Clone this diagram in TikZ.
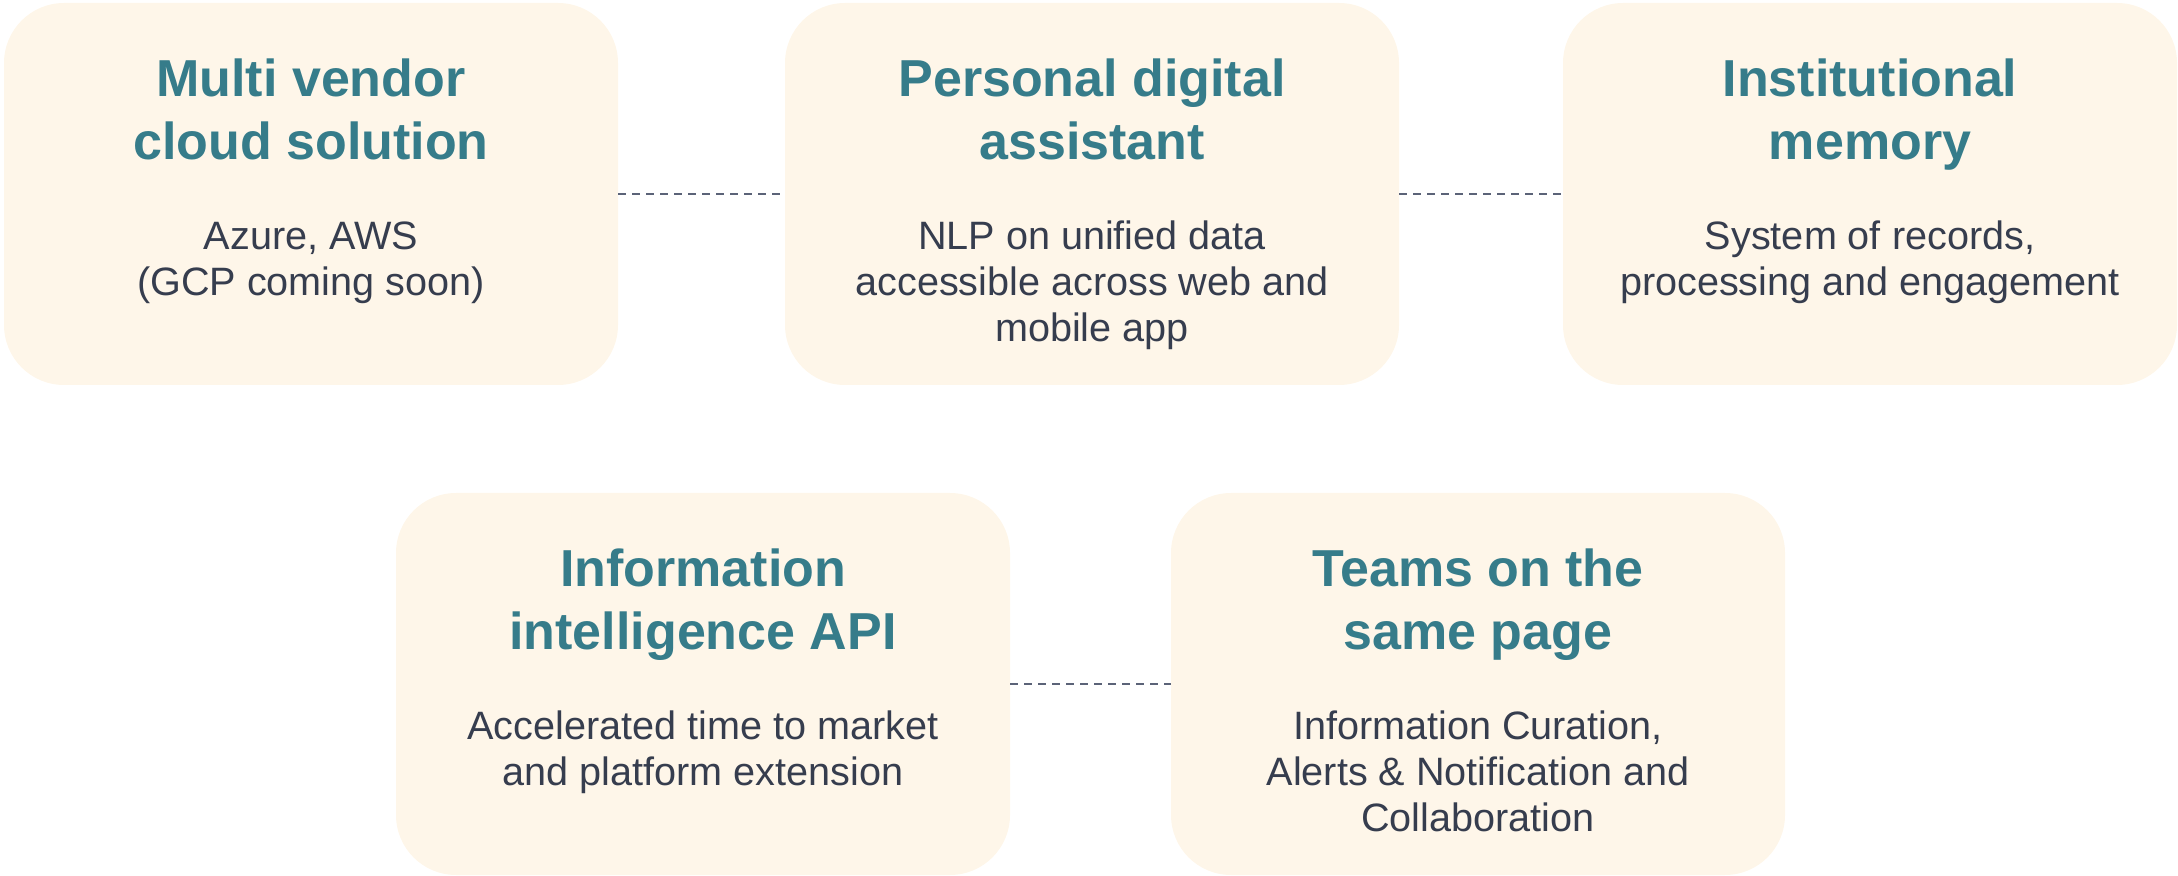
\documentclass[tikz,border=0pt]{standalone}
\usepackage{fontspec}
\setmainfont{Liberation Sans}
\usetikzlibrary{positioning}
\definecolor{cardfill}{HTML}{FEF6E9}
\definecolor{headteal}{HTML}{367C8A}
\definecolor{bodyslate}{HTML}{363D4E}
\definecolor{linkgray}{HTML}{5B6378}
\tikzset{x=0.5pt, y=-0.5pt,
card/.style={ % Sets the properties for each card
rectangle,
rounded corners=30pt,
fill=cardfill,
minimum width=307pt,
minimum height=191pt},
head/.style={ % Bold teal heading, base is its last line
anchor=base,
align=center,
text=headteal,
font=\bfseries\fontsize{26}{31.5}\selectfont},
body/.style={ % Plain description text, base is its last line
anchor=base,
align=center,
text=bodyslate,
font=\fontsize{19.8}{23}\selectfont},
link/.style={ % Dashed connector between cards
draw=linkgray,
line width=1.4pt,
dash pattern=on 4pt off 3pt}}

\begin{document}
\begin{tikzpicture}
	\useasboundingbox (0,0) rectangle (2178,876);
	\node[card] (cloud) at (311,194) {};
	\node[card] (assistant) at (1092,194) {};
	\node[card] (memory) at (1870,194) {};
	\node[card] (api) at (703,684) {};
	\node[card] (teams) at (1478,684) {};
	\node[head] (cloudhead) at ([yshift=-78.5pt]cloud.north) {Multi vendor\\cloud solution};
	\node[body] (cloudbody) at ([yshift=-146.5pt]cloud.north) {Azure, AWS\\(GCP coming soon)};
	\node[head] (assistanthead) at ([yshift=-78.5pt]assistant.north) {Personal digital\\assistant};
	\node[body] (assistantbody) at ([yshift=-169.5pt]assistant.north) {NLP on unified data\\accessible across web and\\mobile app};
	\node[head] (memoryhead) at ([yshift=-78.5pt]memory.north) {Institutional\\memory};
	\node[body] (memorybody) at ([yshift=-146.5pt]memory.north) {System of records,\\processing and engagement};
	\node[head] (apihead) at ([yshift=-78.5pt]api.north) {Information\\intelligence API};
	\node[body] (apibody) at ([yshift=-146.5pt]api.north) {Accelerated time to market\\and platform extension};
	\node[head] (teamshead) at ([yshift=-78.5pt]teams.north) {Teams on the\\same page};
	\node[body] (teamsbody) at ([yshift=-169.5pt]teams.north) {Information Curation,\\Alerts \& Notification and\\Collaboration};
	\draw[link] (cloud) -- (assistant);
	\draw[link] (assistant) -- (memory);
	\draw[link] (api) -- (teams);
\end{tikzpicture}
\end{document}
